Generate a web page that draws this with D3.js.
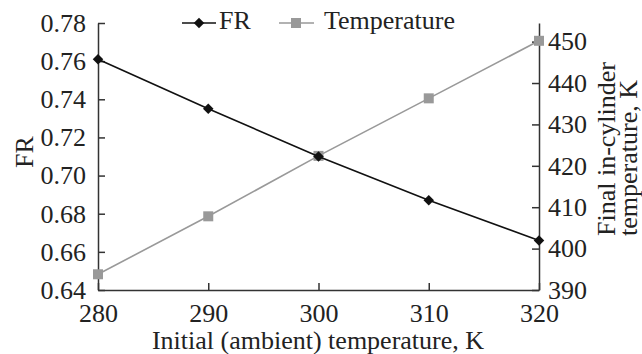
<!DOCTYPE html>
<html>
<head>
<meta charset="utf-8">
<script src="https://cdn.jsdelivr.net/npm/d3@7"></script>
<style>
  body { margin: 0; background: #fff; }
</style>
</head>
<body>
<div id="chart"></div>
<script>
// data
const temps = [280, 290, 300, 310, 320];
const frValues = [0.761, 0.735, 0.710, 0.687, 0.666];
const finalTemps = [393.8, 407.8, 422.4, 436.3, 450.2];
const frTicks = [0.64, 0.66, 0.68, 0.70, 0.72, 0.74, 0.76, 0.78];
const tempTicks = [390, 400, 410, 420, 430, 440, 450];
const xTicks = [280, 290, 300, 310, 320];

const w = 642, h = 354;
const m = {left: 98, right: 103, top: 23, bottom: 64};
const font = "'Liberation Serif', 'Times New Roman', Times, serif";
const fs = 26;

const svg = d3.select('#chart').append('svg').attr('width', w).attr('height', h)
  .style('font-family', font);

const x = d3.scaleLinear().domain([280, 320]).range([m.left, w - m.right]);
const yL = d3.scaleLinear().domain([0.64, 0.78]).range([h - m.bottom, m.top]);
const yR = d3.scaleLinear().domain([390, 454.5]).range([h - m.bottom, m.top]);

const axisColor = '#333';

// x axis, ticks pointing inward
const gx = svg.append('g').attr('transform', 'translate(0,' + (h - m.bottom) + ')')
  .call(d3.axisBottom(x).tickValues(xTicks).tickSizeInner(-7).tickSizeOuter(0).tickPadding(14).tickFormat(d3.format('d')));

// left axis
const gl = svg.append('g').attr('transform', 'translate(' + m.left + ',0)')
  .call(d3.axisLeft(yL).tickValues(frTicks).tickSizeInner(-7).tickSizeOuter(0).tickPadding(12).tickFormat(d3.format('.2f')));

// right axis
const gr = svg.append('g').attr('transform', 'translate(' + (w - m.right) + ',0)')
  .call(d3.axisRight(yR).tickValues(tempTicks).tickSizeInner(-7).tickSizeOuter(0).tickPadding(9).tickFormat(d3.format('d')));

[gx, gl, gr].forEach(g => {
  g.attr('font-family', null).attr('font-size', null);
  g.selectAll('text').style('font-family', font).style('font-size', fs + 'px').attr('fill', '#222');
});
gx.selectAll('text').attr('dy', '0.7em');
svg.selectAll('.domain, .tick line').attr('stroke', axisColor).attr('stroke-width', 1.5);

// series
const frData = temps.map((t, i) => ({t: t, v: frValues[i]}));
const tData = temps.map((t, i) => ({t: t, v: finalTemps[i]}));

const frLine = d3.line().x(d => x(d.t)).y(d => yL(d.v));
const tLine = d3.line().x(d => x(d.t)).y(d => yR(d.v));

const grey = '#999';

svg.append('path').datum(tData).attr('d', tLine)
  .attr('fill', 'none').attr('stroke', grey).attr('stroke-width', 1.6);
svg.selectAll('.sq').data(tData).enter().append('rect')
  .attr('x', d => x(d.t) - 5).attr('y', d => yR(d.v) - 5)
  .attr('width', 10).attr('height', 10).attr('fill', grey);

svg.append('path').datum(frData).attr('d', frLine)
  .attr('fill', 'none').attr('stroke', '#111').attr('stroke-width', 1.6);
const diamond = d3.symbol().type(d3.symbolDiamond2).size(70);
svg.selectAll('.dm').data(frData).enter().append('path')
  .attr('d', diamond)
  .attr('transform', d => 'translate(' + x(d.t) + ',' + yL(d.v) + ')')
  .attr('fill', '#111');

// axis titles
const title = (tr, s) => svg.append('text').attr('transform', tr)
  .attr('text-anchor', 'middle').style('font-size', fs + 'px').attr('fill', '#222').text(s);
title('translate(318,349)', 'Initial (ambient) temperature, K');
title('translate(33,152) rotate(-90)', 'FR');
title('translate(615,149) rotate(-90)', 'Final in-cylinder');
title('translate(637,158) rotate(-90)', 'temperature, K');

// legend
const lg = svg.append('g').attr('transform', 'translate(0,23)');
lg.append('line').attr('x1', 182).attr('x2', 216).attr('stroke', '#111').attr('stroke-width', 1.6);
lg.append('path').attr('d', diamond).attr('transform', 'translate(199,0)').attr('fill', '#111');
lg.append('text').attr('x', 219).attr('y', 6).style('font-size', fs + 'px').attr('fill', '#222').text('FR');
lg.append('line').attr('x1', 279).attr('x2', 314).attr('stroke', grey).attr('stroke-width', 1.6);
lg.append('rect').attr('x', 291).attr('y', -5).attr('width', 10).attr('height', 10).attr('fill', grey);
lg.append('text').attr('x', 324).attr('y', 6).style('font-size', fs + 'px').attr('fill', '#222').text('Temperature');
</script>
</body>
</html>
